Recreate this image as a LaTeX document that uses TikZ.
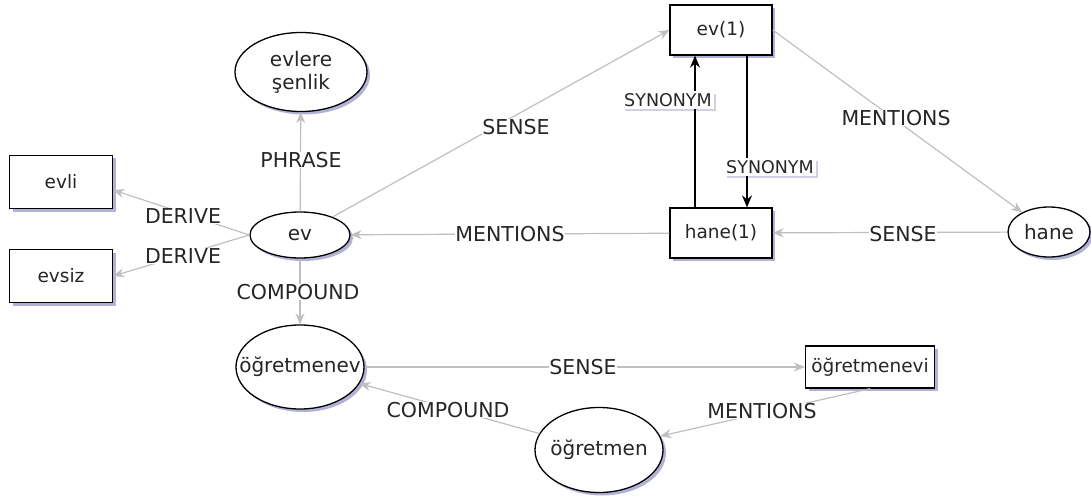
\documentclass[tikz,border=0pt]{standalone}
\usepackage{fontspec}
\setmainfont{DejaVu Sans}
\usetikzlibrary{shapes.geometric,arrows.meta,shadows}
\begin{document}
\begin{tikzpicture}[x=1pt,y=-1pt,
  shad/.style={drop shadow={shadow xshift=3pt,shadow yshift=-3pt,fill=blue!45!black,opacity=0.3}},
  box/.style={draw,line width=1.3pt,fill=white,rectangle,inner sep=2pt,font=\fontsize{18.5}{22}\selectfont,shad,text=black!85},
  ell/.style={draw,line width=1.3pt,fill=white,ellipse,inner sep=0pt,font=\fontsize{20}{23}\selectfont,shad,text=black!85},
  rel/.style={draw=black!25,line width=1.2pt,-{Stealth[length=11pt,width=9pt]}},
  syn/.style={draw=black,line width=1.3pt,-{Stealth[length=12pt,width=10pt]}},
  lab/.style={fill=white,inner sep=0.5pt,text=black!85,font=\fontsize{20.5}{24}\selectfont},
  synlab/.style={fill=white,inner sep=2pt,text=black!85,font=\fontsize{17.5}{20}\selectfont,
    drop shadow={shadow xshift=2.5pt,shadow yshift=-2.5pt,fill=blue!40!black,opacity=0.18}}
]
\useasboundingbox (0,0) rectangle (1091,497);

% nodes
\node[box,minimum width=103pt,minimum height=53pt] (evli) at (61,182) {evli};
\node[box,minimum width=103pt,minimum height=53pt] (evsiz) at (61,276) {evsiz};
\node[ell,minimum width=100pt,minimum height=46pt] (ev) at (300,235) {ev};
\node[ell,minimum width=132pt,minimum height=79pt,align=center] (evlere) at (301,72) {evlere\\şenlik};
\node[box,minimum width=102pt,minimum height=50pt] (ev1) at (721,30) {ev(1)};
\node[box,minimum width=102pt,minimum height=50pt] (hane1) at (721,233) {hane(1)};
\node[ell,minimum width=82pt,minimum height=50pt] (hane) at (1049,232) {hane};
\node[box,minimum width=129pt,minimum height=42pt] (ogevi) at (870,367) {öğretmenevi};
\node[ell,minimum width=128pt,minimum height=84pt] (ogev) at (300,367) {\makebox[60pt]{öğretmenev}};
\node[ell,minimum width=128pt,minimum height=85pt] (ogm) at (599,450) {\makebox[60pt]{öğretmen}};

% gray relations
\draw[rel] (ev.west) -- ([yshift=-8pt]evli.east);
\draw[rel] (ev.west) -- (evsiz.east);
\draw[rel] (ev) -- (evlere);
\draw[rel] (ev) -- (ogev);
\draw[rel] (ev) -- (ev1.west);
\draw[rel] (hane1) -- (ev);
\draw[rel] (ev1.east) -- (hane);
\draw[rel] (hane) -- (hane1);
\draw[rel] (ogev) -- (ogevi);
\draw[rel] (ogevi.south) -- (ogm);
\draw[rel] (ogm) -- (ogev);

% synonyms
\draw[syn] ([xshift=-26pt]hane1.north) -- ([xshift=-26pt]ev1.south);
\draw[syn] ([xshift=26pt]ev1.south) -- ([xshift=26pt]hane1.north);

% labels
\node[lab] (lphrase) at (301,160) {PHRASE};
\node[lab] (lder1) at (183,216) {DERIVE};
\node[lab] (lder2) at (183,256) {DERIVE};
\node[lab] (lcomp1) at (298,292) {COMPOUND};
\node[lab] (lsense1) at (516,127) {SENSE};
\node[lab] (lment1) at (510,234) {MENTIONS};
\node[lab] (lment2) at (896,118) {MENTIONS};
\node[lab] (lsense2) at (903,234) {SENSE};
\node[lab] (lsense3) at (583,367) {SENSE};
\node[lab] (lcomp2) at (448,410) {COMPOUND};
\node[lab] (lment3) at (762,411) {MENTIONS};
\node[synlab] (lsyn1) at (668,100) {SYNONYM};
\node[synlab] (lsyn2) at (770,167) {SYNONYM};
\end{tikzpicture}
\end{document}
